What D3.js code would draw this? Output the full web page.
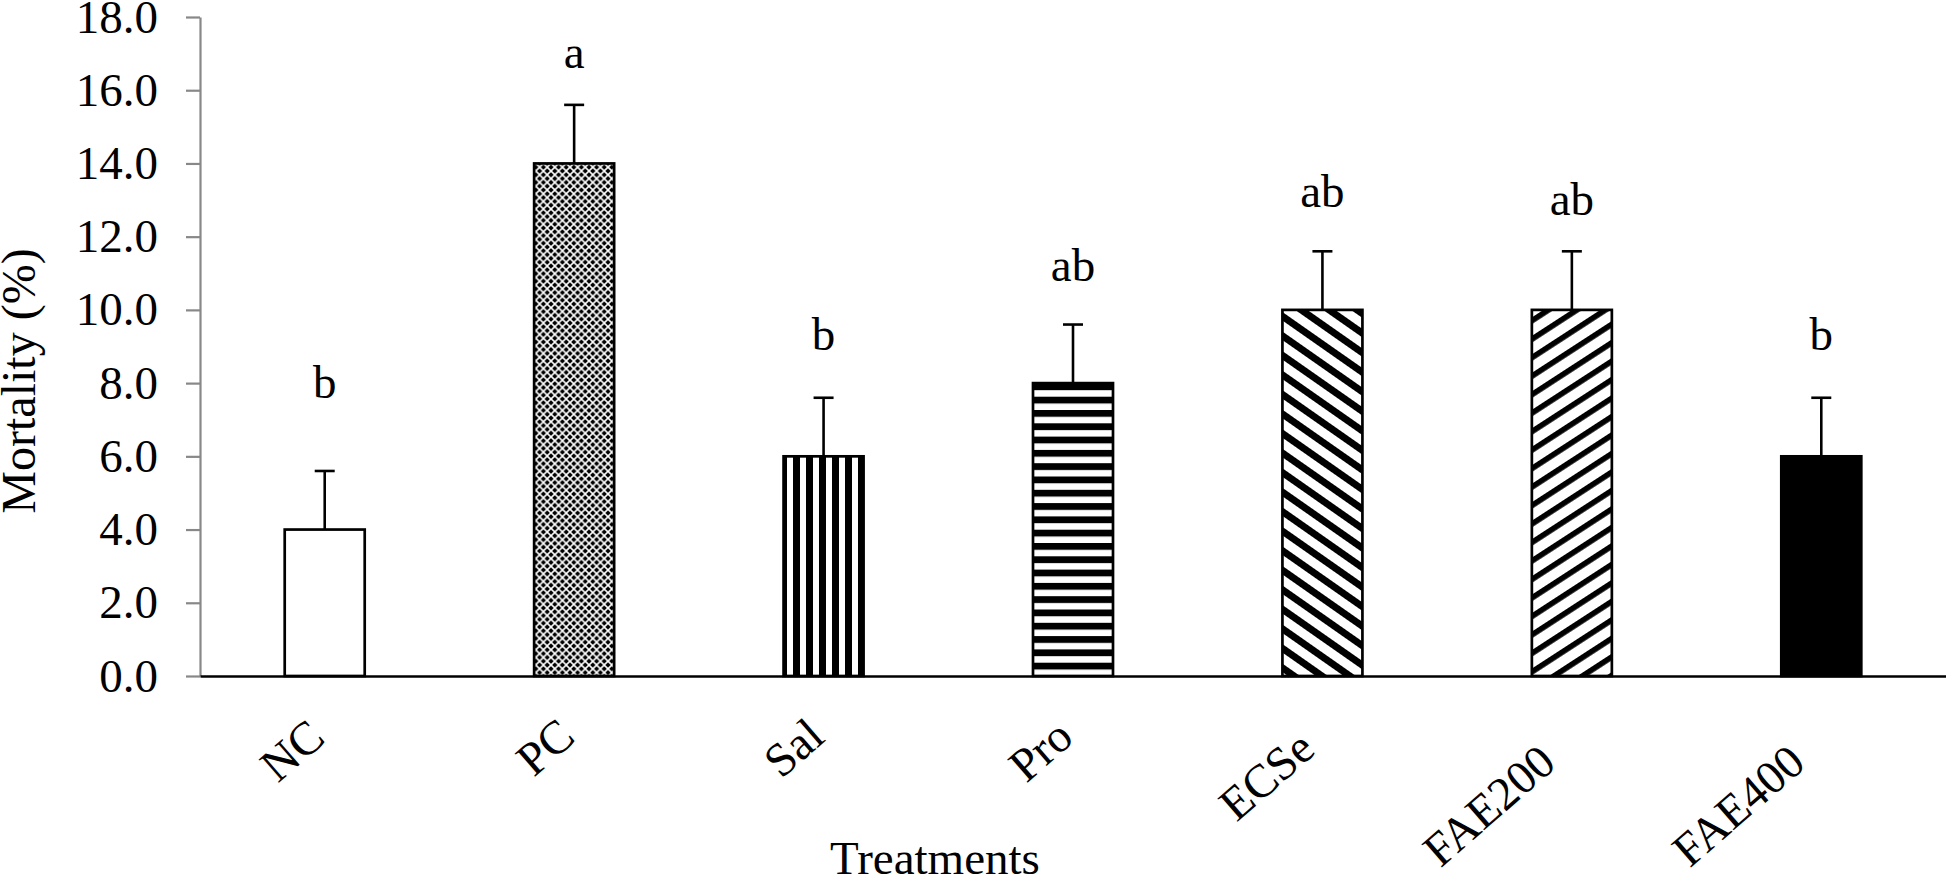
<!DOCTYPE html>
<html>
<head>
<meta charset="utf-8">
<script src="https://cdn.jsdelivr.net/npm/d3@7/dist/d3.min.js"></script>
<style>
  html, body { margin: 0; padding: 0; background: #fff; }
  svg { display: block; }
  text { font-family: "Liberation Serif", "Times New Roman", Times, serif; fill: #000; }
</style>
</head>
<body>
<svg id="chart" width="1946" height="876"></svg>
<script>
// ---- data ----
const categories = ["NC", "PC", "Sal", "Pro", "ECSe", "FAE200", "FAE400"];
const means = [4.0, 14.0, 6.0, 8.0, 10.0, 10.0, 6.0];
const errors = [1.6, 1.6, 1.6, 1.6, 1.6, 1.6, 1.6];
const letters = ["b", "a", "b", "ab", "ab", "ab", "b"];
const letterPos = [7.6, 16.6, 8.9, 10.8, 12.8, 12.6, 8.9];
const fills = ["white", "url(#pDots)", "url(#pVert)", "url(#pHoriz)", "url(#pDown)", "url(#pUp)", "#000"];
const yTicks = [0, 2, 4, 6, 8, 10, 12, 14, 16, 18];
const yTitle = "Mortality (%)";
const xTitle = "Treatments";

(function () {
const svg = d3.select("#chart");
const mLeft = 200, mRight = 1946, mTop = 17, mBottom = 676;

const x = d3.scaleBand().domain(categories).range([mLeft, mRight]).padding(0);
const y = d3.scaleLinear().domain([0, 18]).range([mBottom, mTop]);

// ---- patterns ----
const defs = svg.append("defs");
const P = 7.6;
const pd = defs.append("pattern").attr("id", "pDots").attr("patternUnits", "userSpaceOnUse")
  .attr("width", P).attr("height", P);
pd.append("rect").attr("width", P).attr("height", P).attr("fill", "#fff");
const diamond = (px, py, r) => pd.append("path")
  .attr("d", `M${px - r},${py} L${px},${py - r} L${px + r},${py} L${px},${py + r} Z`).attr("fill", "#000");
[[P / 2, 0], [P / 2, P], [0, P / 2], [P, P / 2]].forEach(p => diamond(p[0], p[1], 2.7));

const pv = defs.append("pattern").attr("id", "pVert").attr("patternUnits", "userSpaceOnUse")
  .attr("width", 13).attr("height", 13);
pv.append("rect").attr("width", 13).attr("height", 13).attr("fill", "#fff");
pv.append("rect").attr("x", 0).attr("width", 7).attr("height", 13).attr("fill", "#000");

const ph = defs.append("pattern").attr("id", "pHoriz").attr("patternUnits", "userSpaceOnUse")
  .attr("width", 13.3).attr("height", 13.3).attr("y", 676);
ph.append("rect").attr("width", 13.3).attr("height", 13.3).attr("fill", "#fff");
ph.append("rect").attr("y", 0).attr("width", 13.3).attr("height", 6.8).attr("fill", "#000");

const pdn = defs.append("pattern").attr("id", "pDown").attr("patternUnits", "userSpaceOnUse")
  .attr("width", 20).attr("height", 16).attr("patternTransform", "rotate(35)");
pdn.append("rect").attr("width", 20).attr("height", 16).attr("fill", "#fff");
pdn.append("rect").attr("width", 20).attr("height", 7).attr("fill", "#000");

const pup = defs.append("pattern").attr("id", "pUp").attr("patternUnits", "userSpaceOnUse")
  .attr("width", 20).attr("height", 15.5).attr("patternTransform", "rotate(-33)");
pup.append("rect").attr("width", 20).attr("height", 15.5).attr("fill", "#fff");
pup.append("rect").attr("width", 20).attr("height", 5.6).attr("fill", "#000");

// ---- y axis ----
const yAxis = d3.axisLeft(y).tickValues(yTicks).tickFormat(d3.format(".1f"))
  .tickSize(14).tickPadding(28).tickSizeOuter(0);
const gy = svg.append("g").attr("transform", `translate(${mLeft},0)`).call(yAxis);
gy.select(".domain").attr("stroke", "#888").attr("stroke-width", 2.2);
gy.selectAll(".tick line").attr("stroke", "#888").attr("stroke-width", 2.2);
gy.selectAll(".tick text").style("font-size", "47px").attr("fill", "#000")
  .style("font-family", '"Liberation Serif", "Times New Roman", serif');

// ---- bars ----
const barW = 80;
const cx = d => x(d) + x.bandwidth() / 2;
const data = categories.map((c, i) => ({ c, m: means[i], e: errors[i], l: letters[i], lp: letterPos[i], f: fills[i] }));

svg.append("g").selectAll("rect").data(data).join("rect")
  .attr("x", d => cx(d.c) - barW / 2)
  .attr("y", d => y(d.m))
  .attr("width", barW)
  .attr("height", d => y(0) - y(d.m))
  .attr("fill", d => d.f)
  .attr("stroke", "#000")
  .attr("stroke-width", 2.7);

const eg = svg.append("g").attr("stroke", "#000").attr("stroke-width", 2.6);
eg.selectAll("line.v").data(data).join("line").attr("class", "v")
  .attr("x1", d => cx(d.c)).attr("x2", d => cx(d.c))
  .attr("y1", d => y(d.m)).attr("y2", d => y(d.m + d.e));
eg.selectAll("line.cap").data(data).join("line").attr("class", "cap")
  .attr("x1", d => cx(d.c) - 10).attr("x2", d => cx(d.c) + 10)
  .attr("y1", d => y(d.m + d.e)).attr("y2", d => y(d.m + d.e));

svg.append("g").selectAll("text").data(data).join("text")
  .attr("x", d => cx(d.c)).attr("y", d => y(d.lp))
  .attr("text-anchor", "middle").style("font-size", "47px")
  .text(d => d.l);

// ---- x axis ----
const xAxis = d3.axisBottom(x).tickSize(0).tickSizeOuter(0);
const gx = svg.append("g").attr("transform", `translate(0,${mBottom})`).call(xAxis);
gx.select(".domain").attr("stroke", "#000").attr("stroke-width", 2.7);
gx.selectAll(".tick text")
  .attr("x", 0).attr("y", 0).attr("dy", null)
  .attr("text-anchor", "end")
  .attr("fill", "#000")
  .style("font-size", "47px")
  .style("font-family", '"Liberation Serif", "Times New Roman", serif')
  .each(function () {
    const L = this.getComputedTextLength();
    const k = Math.max(0, L - 62);
    const dx = 3 - 0.18 * k, dy = 64 + 0.28 * k;
    d3.select(this).attr("transform", `translate(${dx},${dy}) rotate(-41)`);
  });

// ---- titles ----
svg.append("text").attr("transform", "translate(35,381) rotate(-90)")
  .attr("text-anchor", "middle").style("font-size", "48px").text(yTitle);
svg.append("text").attr("x", 935).attr("y", 874)
  .attr("text-anchor", "middle").style("font-size", "47px").text(xTitle);
})();
</script>
</body>
</html>
